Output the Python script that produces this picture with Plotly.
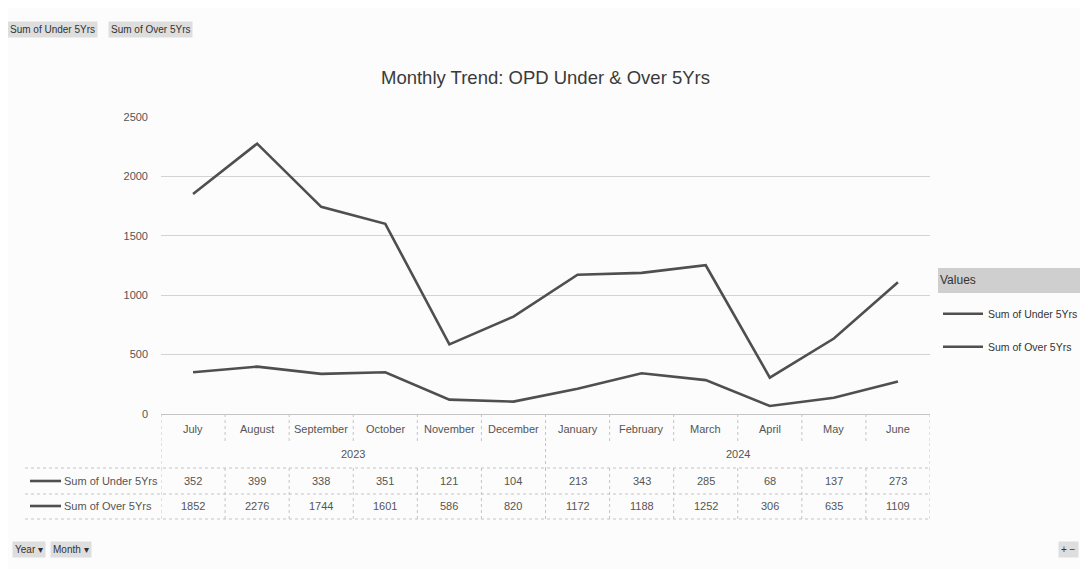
import plotly.graph_objects as go

months = ["July", "August", "September", "October", "November", "December",
          "January", "February", "March", "April", "May", "June"]
years = ["2023", "2024"]
under_5 = [352, 399, 338, 351, 121, 104, 213, 343, 285, 68, 137, 273]
over_5 = [1852, 2276, 1744, 1601, 586, 820, 1172, 1188, 1252, 306, 635, 1109]
series_names = ["Sum of Under 5Yrs", "Sum of Over 5Yrs"]

# page has an 8px body margin, so the figure is 8px smaller than the window
OFF = 8
W, H = 1088 - OFF, 569 - OFF
L, R, T, B = 161, 930, 117, 414  # plot area in window pixels
FONT = "Liberation Sans Narrow, Arial Narrow, Liberation Sans, sans-serif"
LINE_COLOR = "#4f4f4f"
TXT = "#555555"
GRID = "#d3d3d3"


def px(x):
    return (x - L) / (R - L)


def py(y):
    return (B - y) / (B - T)


xs = list(range(len(months)))
fig = go.Figure()
for i, (name, vals) in enumerate(zip(series_names, [under_5, over_5])):
    fig.add_trace(go.Scatter(
        x=xs, y=vals, mode="lines", name=name, legendgroup=name,
        line=dict(color=LINE_COLOR, width=2.6),
        hovertemplate="%{text}: %{y}<extra>" + name + "</extra>",
        text=months,
    ))

shapes = []
ann = []
tl = dict(color="#c4c4c4", width=1, dash="dot")
SMALL = 11


def label(x, y, text, xref="x", xanchor="center", size=SMALL, color=TXT):
    ann.append(dict(x=x, y=y, xref=xref, yref="paper", text=text, showarrow=False,
                    xanchor=xanchor, yanchor="middle",
                    font=dict(size=size, color=color, family=FONT)))


# month row
for i in range(len(months) + 1):
    shapes.append(dict(type="line", xref="x", yref="paper", x0=i - 0.5, x1=i - 0.5,
                       y0=py(414), y1=py(443), line=tl))
for i, m in enumerate(months):
    label(i, py(429), m)
# year row
for xb in [-0.5, 5.5, 11.5]:
    shapes.append(dict(type="line", xref="x", yref="paper", x0=xb, x1=xb,
                       y0=py(443), y1=py(468), line=tl))
for j, yr in enumerate(years):
    label(2.5 + 6 * j, py(454), yr)
# horizontal lines
for yl in [468, 494, 519]:
    shapes.append(dict(type="line", xref="paper", yref="paper", x0=px(25), x1=1,
                       y0=py(yl), y1=py(yl), line=tl))
# value rows
for i in range(len(months) + 1):
    shapes.append(dict(type="line", xref="x", yref="paper", x0=i - 0.5, x1=i - 0.5,
                       y0=py(468), y1=py(519), line=tl))
for r, (name, vals, yc) in enumerate(zip(series_names, [under_5, over_5], [481, 506])):
    shapes.append(dict(type="line", xref="paper", yref="paper", x0=px(30), x1=px(61),
                       y0=py(yc), y1=py(yc), line=dict(color=LINE_COLOR, width=2.6)))
    label(px(62), py(yc), name, xref="paper", xanchor="left")
    for i, v in enumerate(vals):
        label(i, py(yc), str(v))

# legend header background
shapes.append(dict(type="rect", xref="paper", yref="paper", x0=px(938), x1=px(1090),
                   y0=py(293), y1=py(268), fillcolor="#cfcfcf", line=dict(width=0), layer="below"))


# field buttons
def button(x, y, text):
    ann.append(dict(x=px(x), y=py(y), xref="paper", yref="paper", text=text, showarrow=False,
                    xanchor="left", yanchor="middle", bgcolor="#dedede", borderpad=2,
                    font=dict(size=10, color="#333333", family=FONT)))


button(7, 30, "Sum of Under 5Yrs")
button(108, 30, "Sum of Over 5Yrs")
button(12, 549, "Year ▾")
button(50, 549, "Month ▾")
button(1058, 549, "+ −")

fig.update_layout(
    width=W, height=H,
    margin=dict(l=L - OFF, r=(W + OFF) - R, t=T - OFF, b=(H + OFF) - B, autoexpand=False),
    paper_bgcolor="#fcfcfc", plot_bgcolor="#fcfcfc",
    font=dict(family=FONT, color=TXT, size=SMALL),
    title=dict(text="Monthly Trend: OPD Under & Over 5Yrs", x=0.5, xref="paper", xanchor="center",
               y=1 - (78 - OFF) / H, yanchor="middle",
               font=dict(size=18.5, color="#3a3a3a", family=FONT)),
    xaxis=dict(range=[-0.5, 11.5], showticklabels=False, showgrid=False, zeroline=False,
               showline=False, ticks=""),
    yaxis=dict(range=[0, 2500], dtick=500, showgrid=True, gridcolor=GRID, zeroline=True,
               zerolinecolor="#c4c4c4", zerolinewidth=1, showline=False, ticks="",
               ticklabelstandoff=12, tickfont=dict(size=SMALL, color=TXT, family=FONT)),
    legend=dict(x=px(938), y=py(268), xanchor="left", yanchor="top", bgcolor="rgba(0,0,0,0)",
                title=dict(text="Values<br> ", font=dict(size=12, color="#333333", family=FONT)),
                font=dict(size=10.5, color="#333333", family=FONT), tracegroupgap=14,
                itemwidth=40),
    shapes=shapes,
    annotations=ann,
    hovermode="x unified",
)

fig.write_html("out.html")
